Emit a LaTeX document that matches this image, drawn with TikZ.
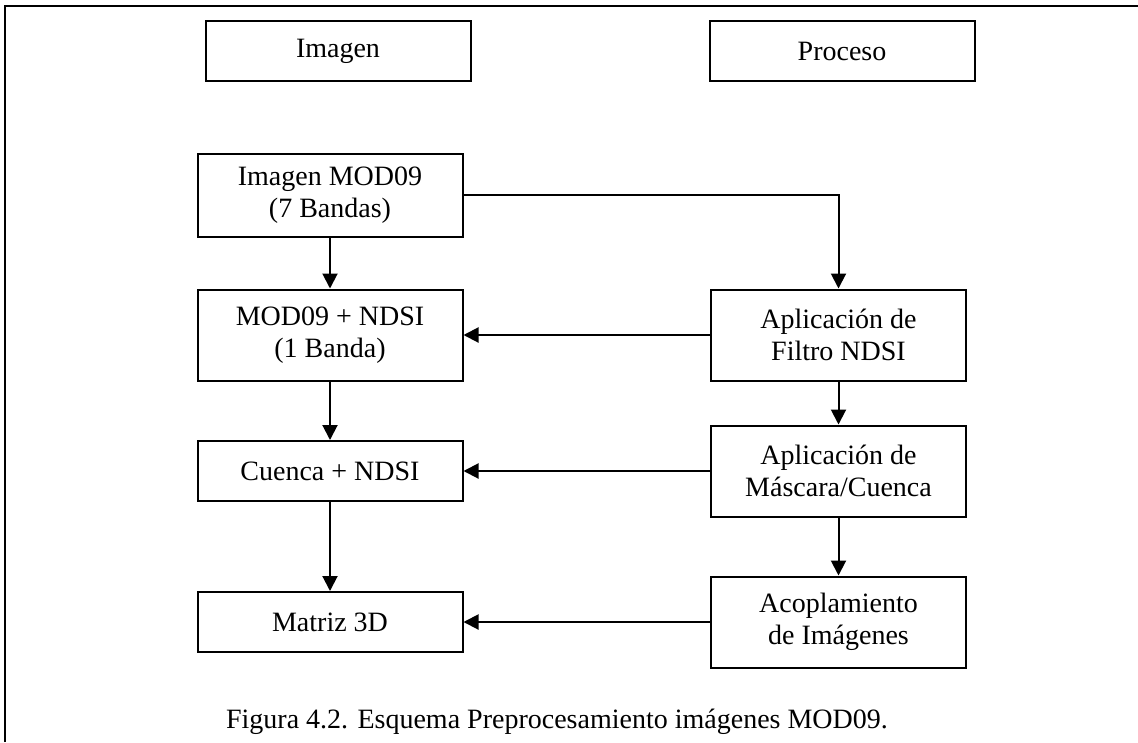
\documentclass[tikz,border=0pt]{standalone}
\usepackage{fontspec}
\setmainfont{Liberation Serif}
\usetikzlibrary{arrows.meta,positioning}

\begin{document}
\begin{tikzpicture}[
  x=1pt,y=-1pt,
  font=\fontsize{28}{32}\selectfont,
  line width=2pt,
  bx/.style={draw,line width=2pt,inner sep=2pt,align=center},
  arr/.style={-{Triangle[length=15pt,width=15pt]},line width=2pt}]
\useasboundingbox (0,0) rectangle (1138,742);

% --- marco (solo borde superior e izquierdo visibles) ---
\draw[line width=2.4pt] (5,742) -- (5,6) -- (1138,6);

% --- encabezados ---
\node[bx,minimum width=265pt,minimum height=60pt] (img)  at (338,51) {Imagen};
\node[bx,minimum width=265pt,minimum height=60pt] (proc) at (842,51) {Proceso};

% --- columna imagen ---
\node[bx,minimum width=265pt,minimum height=83pt] (mod)  at (330,195) {Imagen MOD09\\(7 Bandas)};
\node[bx,minimum width=265pt,minimum height=91pt] (ndsi) at (330,335) {MOD09 + NDSI\\(1 Banda)};
\node[bx,minimum width=265pt,minimum height=60pt] (cuen) at (330,471) {Cuenca + NDSI};
\node[bx,minimum width=265pt,minimum height=60pt] (mat)  at (330,622) {Matriz 3D};

% --- columna proceso ---
\node[bx,minimum width=255pt,minimum height=91pt] (filt) at (838.5,335) {Aplicación de\\Filtro NDSI};
\node[bx,minimum width=255pt,minimum height=91pt] (masc) at (838.5,471) {Aplicación de\\Máscara/Cuenca};
\node[bx,minimum width=255pt,minimum height=91pt] (acop) at (838.5,622) {Acoplamiento\\de Imágenes};

% --- conectores ---
\draw[arr] (mod) -- (ndsi);
\draw[arr] (ndsi) -- (cuen);
\draw[arr] (cuen) -- (mat);
\draw[arr] (mod.east) -| (filt.north);
\draw[arr] (filt) -- (masc);
\draw[arr] (masc) -- (acop);
\draw[arr] (filt) -- (ndsi);
\draw[arr] (masc) -- (cuen);
\draw[arr] (acop) -- (mat);

% --- leyenda ---
\node (cap) at (557,722) {Figura 4.2. Esquema Preprocesamiento imágenes MOD09.};
\end{tikzpicture}
\end{document}
